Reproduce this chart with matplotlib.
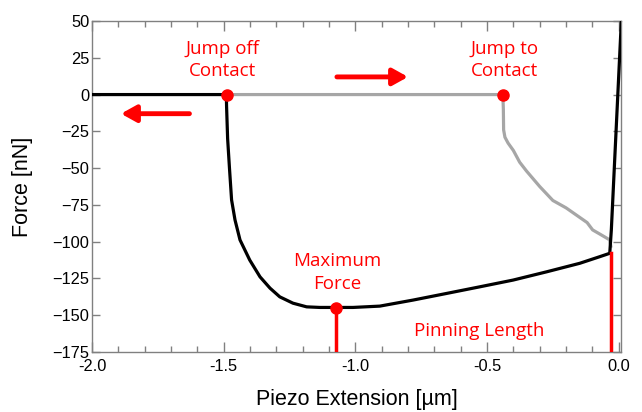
import matplotlib
matplotlib.use("Agg")
import matplotlib.pyplot as plt
from matplotlib.ticker import MultipleLocator, FixedLocator

# Approach (extend) curve, grey
approach_x = [-1.49, -0.44, -0.438, -0.437, -0.432, -0.42, -0.40, -0.376, -0.35,
              -0.30, -0.25, -0.20, -0.16, -0.12, -0.099, -0.07, -0.034, -0.030]
approach_y = [0, 0, -10, -24, -29, -33, -38, -46, -52,
              -62.5, -72, -77, -82, -87, -92, -95, -98.8, -103]

# Retraction curve, black
retract_x = [0.01, -0.028, -0.034, -0.072, -0.148, -0.274, -0.401, -0.528,
             -0.654, -0.781, -0.907, -1.009, -1.074, -1.135, -1.185, -1.237,
             -1.287, -1.324, -1.362, -1.401, -1.438, -1.457, -1.470, -1.478,
             -1.485, -1.489, -1.49, -2.0]
retract_y = [50, -92, -107.9, -110.2, -114.7, -120.5, -126.1, -130.7,
             -135.2, -139.7, -143.8, -144.7, -144.7, -144.7, -144.3, -141.8,
             -137.5, -131.6, -123.9, -112.5, -98.8, -85.2, -71.6, -50,
             -30, -8, 0, 0]

# Marked events
jump_off = (-1.489, 0)
jump_to = (-0.44, 0)
max_force = (-1.075, -144.9)
pinning_x = -0.031
pinning_top = -108

x_ticks = [-2.0, -1.5, -1.0, -0.5, 0.0]
x_tick_labels = ["-2.0", "-1.5", "-1.0", "-0.5", "0.0"]
y_ticks = [50, 25, 0, -25, -50, -75, -100, -125, -150, -175]

RED = "#ff0000"
GREY_LINE = "#a6a6a6"
SPINE = "#808080"

fig = plt.figure(figsize=(6.42, 4.12), dpi=100)
ax = fig.add_axes([0.1433, 0.1456, 0.8237, 0.8034])

ax.plot(approach_x, approach_y, color=GREY_LINE, lw=2.3, solid_joinstyle="round", zorder=2)
ax.plot(retract_x, retract_y, color="black", lw=2.3, solid_joinstyle="round", zorder=3)

ax.plot([max_force[0], max_force[0]], [max_force[1], -175], color=RED, lw=2.5, zorder=4)
ax.plot([pinning_x, pinning_x], [pinning_top, -175], color=RED, lw=2.5, zorder=4)

for px, py in (jump_off, jump_to, max_force):
    ax.plot(px, py, "o", color=RED, ms=8, zorder=5)

label_font = dict(color=RED, fontsize=13.5, family=["Open Sans", "DejaVu Sans"],
                  ha="center", va="center", linespacing=1.3)
ax.text(-1.505, 23.5, "Jump off\nContact", **label_font)
ax.text(-0.435, 23.5, "Jump to\nContact", **label_font)
ax.text(-1.07, -121, "Maximum\nForce", **label_font)
ax.text(-0.53, -161, "Pinning Length", **label_font)

arrow_style = dict(arrowstyle="-|>,head_length=0.9,head_width=0.5", color=RED, lw=3.5,
                   shrinkA=0, shrinkB=0)
ax.annotate("", xy=(-1.89, -13), xytext=(-1.63, -13), arrowprops=arrow_style)
ax.annotate("", xy=(-0.80, 12), xytext=(-1.07, 12), arrowprops=arrow_style)

ax.set_xlim(-2.0, 0.008)
ax.set_ylim(-175, 50)
ax.xaxis.set_major_locator(FixedLocator(x_ticks))
ax.set_xticklabels(x_tick_labels)
ax.xaxis.set_minor_locator(MultipleLocator(0.1))
ax.set_yticks(y_ticks)

for s in ax.spines.values():
    s.set_color(SPINE)
    s.set_linewidth(1.0)

sans = ["Liberation Sans", "DejaVu Sans"]
ax.tick_params(axis="both", which="both", direction="in", top=True, right=True,
               color=SPINE, width=1.0)
ax.tick_params(axis="x", which="major", length=7, pad=5)
ax.tick_params(axis="x", which="minor", length=4)
ax.tick_params(axis="y", which="major", length=6, pad=2)
for lab in ax.get_xticklabels() + ax.get_yticklabels():
    lab.set_fontfamily(sans)
    lab.set_fontsize(11.8)

ax.set_xlabel("Piezo Extension [µm]", fontsize=15.5, family=sans, labelpad=11)
ax.set_ylabel("Force [nN]", fontsize=15.5, family=sans, labelpad=14)

fig.savefig("out.png", dpi=100)
